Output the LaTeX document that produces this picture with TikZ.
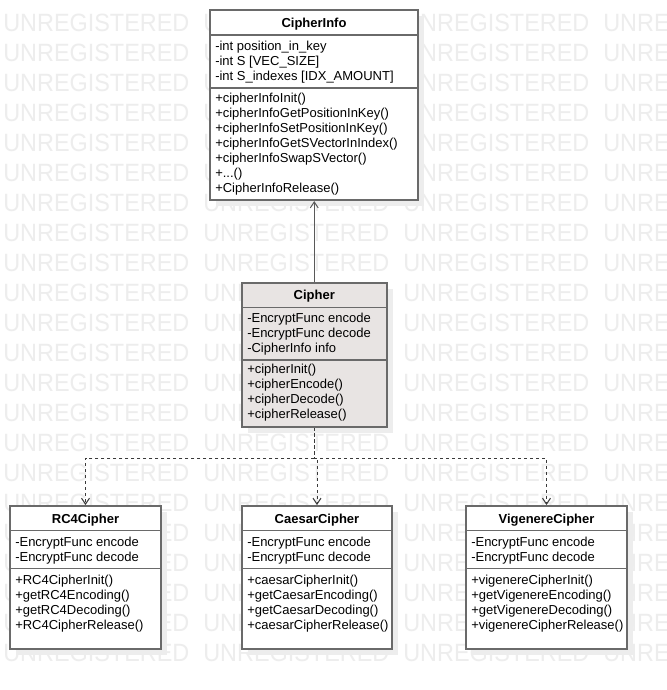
\documentclass[tikz,border=0pt]{standalone}
\usepackage{fontspec}
\setmainfont{Liberation Sans}
\usetikzlibrary{arrows.meta,fit,shadows}
\definecolor{boxgray}{HTML}{6A6A6A}
\definecolor{cipherfill}{HTML}{E8E4E3}
\definecolor{wmgray}{HTML}{EDEDED}
\definecolor{shadowgray}{HTML}{EDEDED}
\definecolor{conncol}{HTML}{3A3A3A}
\tikzset{
  umlbox/.style={draw=boxgray, line width=1.5pt, fill=white, inner sep=0pt,
    drop shadow={shadow xshift=4.5pt, shadow yshift=-4.5pt, fill=shadowgray, opacity=1}},
  sepline/.style={draw=boxgray, line width=1.1pt},
  txt/.style={anchor=base west, inner sep=0pt, font=\fontsize{9.75pt}{11pt}\selectfont},
  ttl/.style={anchor=base, inner sep=0pt, font=\fontsize{9.75pt}{11pt}\selectfont\bfseries},
  wm/.style={anchor=base west, inner sep=0pt, text=wmgray, font=\fontsize{18.75pt}{20pt}\selectfont},
  conn/.style={draw=conncol, line width=0.75pt, -{Straight Barb[length=4.5pt,width=6pt]}},
  dconn/.style={conn, dash pattern=on 2.25pt off 2.25pt},
}
\begin{document}
\begin{tikzpicture}[x=0.75pt,y=-0.75pt]
\useasboundingbox (0,0) rectangle (667,690);
\clip (0,0) rectangle (667,690);
\fill[white] (0,0) rectangle (667,690);
% watermark
\foreach \r in {0,...,21}{
  \foreach \c in {0,...,3}{
    \node[wm] (wm-\r-\c) at (3+200*\c, 31+30*\r) {\scalebox{0.937}[1]{UNREGISTERED}};
  }
}
% box corners
\coordinate (ci-nw) at (210,10);   \coordinate (ci-se) at (418,200);
\coordinate (cp-nw) at (242,283);  \coordinate (cp-se) at (386.5,427);
\coordinate (rc-nw) at (10,506);   \coordinate (rc-se) at (161,649);
\coordinate (ca-nw) at (242,506);  \coordinate (ca-se) at (392,649);
\coordinate (vg-nw) at (466,506);  \coordinate (vg-se) at (627,649);
% boxes
\node[umlbox, fit=(ci-nw)(ci-se)] (ci) {};
\node[umlbox, fill=cipherfill, fit=(cp-nw)(cp-se)] (cp) {};
\node[umlbox, fit=(rc-nw)(rc-se)] (rc) {};
\node[umlbox, fit=(ca-nw)(ca-se)] (ca) {};
\node[umlbox, fit=(vg-nw)(vg-se)] (vg) {};
% separators
\draw[sepline] (ci.west |- 0,35) -- (ci.east |- 0,35);
\draw[sepline] (ci.west |- 0,88) -- (ci.east |- 0,88);
\draw[sepline] (cp.west |- 0,307.5) -- (cp.east |- 0,307.5);
\draw[sepline] (cp.west |- 0,360) -- (cp.east |- 0,360);
\foreach \b in {rc,ca,vg}{
  \draw[sepline] (\b.west |- 0,530.5) -- (\b.east |- 0,530.5);
  \draw[sepline] (\b.west |- 0,568.5) -- (\b.east |- 0,568.5);
}
% CipherInfo
\node[ttl] (ci-t) at (ci.north |- 0,27.5) {CipherInfo};
\node[txt] (ci-a0) at (215,50.5) {-int position\_in\_key};
\node[txt] (ci-a1) at (215,65.5) {-int S [VEC\_SIZE]};
\node[txt] (ci-a2) at (215,80.5) {-int S\_indexes [IDX\_AMOUNT]};
\node[txt] (ci-m0) at (215,102.5) {+cipherInfoInit()};
\node[txt] (ci-m1) at (215,117.5) {+cipherInfoGetPositionInKey()};
\node[txt] (ci-m2) at (215,132.5) {+cipherInfoSetPositionInKey()};
\node[txt] (ci-m3) at (215,147.5) {+cipherInfoGetSVectorInIndex()};
\node[txt] (ci-m4) at (215,162.5) {+cipherInfoSwapSVector()};
\node[txt] (ci-m5) at (215,177.5) {+...()};
\node[txt] (ci-m6) at (215,192.5) {+CipherInfoRelease()};
% Cipher
\node[ttl] (cp-t) at (cp.north |- 0,299) {Cipher};
\node[txt] (cp-a0) at (247,322.5) {-EncryptFunc encode};
\node[txt] (cp-a1) at (247,337.5) {-EncryptFunc decode};
\node[txt] (cp-a2) at (247,352.5) {-CipherInfo info};
\node[txt] (cp-m0) at (247,373.5) {+cipherInit()};
\node[txt] (cp-m1) at (247,388.5) {+cipherEncode()};
\node[txt] (cp-m2) at (247,403.5) {+cipherDecode()};
\node[txt] (cp-m3) at (247,418.5) {+cipherRelease()};
% RC4Cipher
\node[ttl] (rc-t) at (rc.north |- 0,523) {RC4Cipher};
\node[txt] (rc-a0) at (15,546) {-EncryptFunc encode};
\node[txt] (rc-a1) at (15,561) {-EncryptFunc decode};
\node[txt] (rc-m0) at (15,584) {+RC4CipherInit()};
\node[txt] (rc-m1) at (15,599) {+getRC4Encoding()};
\node[txt] (rc-m2) at (15,614) {+getRC4Decoding()};
\node[txt] (rc-m3) at (15,629) {+RC4CipherRelease()};
% CaesarCipher
\node[ttl] (ca-t) at (ca.north |- 0,523) {CaesarCipher};
\node[txt] (ca-a0) at (247,546) {-EncryptFunc encode};
\node[txt] (ca-a1) at (247,561) {-EncryptFunc decode};
\node[txt] (ca-m0) at (247,584) {+caesarCipherInit()};
\node[txt] (ca-m1) at (247,599) {+getCaesarEncoding()};
\node[txt] (ca-m2) at (247,614) {+getCaesarDecoding()};
\node[txt] (ca-m3) at (247,629) {+caesarCipherRelease()};
% VigenereCipher
\node[ttl] (vg-t) at (vg.north |- 0,523) {VigenereCipher};
\node[txt] (vg-a0) at (471,546) {-EncryptFunc encode};
\node[txt] (vg-a1) at (471,561) {-EncryptFunc decode};
\node[txt] (vg-m0) at (471,584) {+vigenereCipherInit()};
\node[txt] (vg-m1) at (471,599) {+getVigenereEncoding()};
\node[txt] (vg-m2) at (471,614) {+getVigenereDecoding()};
\node[txt] (vg-m3) at (471,629) {+vigenereCipherRelease()};
% connectors
\draw[conn, draw=black!65] (cp.north) -- (cp.north |- ci.south);
\draw[dconn] (cp.south) -- (cp.south |- 0,458) -| (rc.north);
\draw[dconn, dash phase=0.75pt] (cp.south) -- (cp.south |- 0,458) -| (ca.north);
\draw[dconn] (cp.south) -- (cp.south |- 0,458) -| (vg.north);
\end{tikzpicture}
\end{document}
